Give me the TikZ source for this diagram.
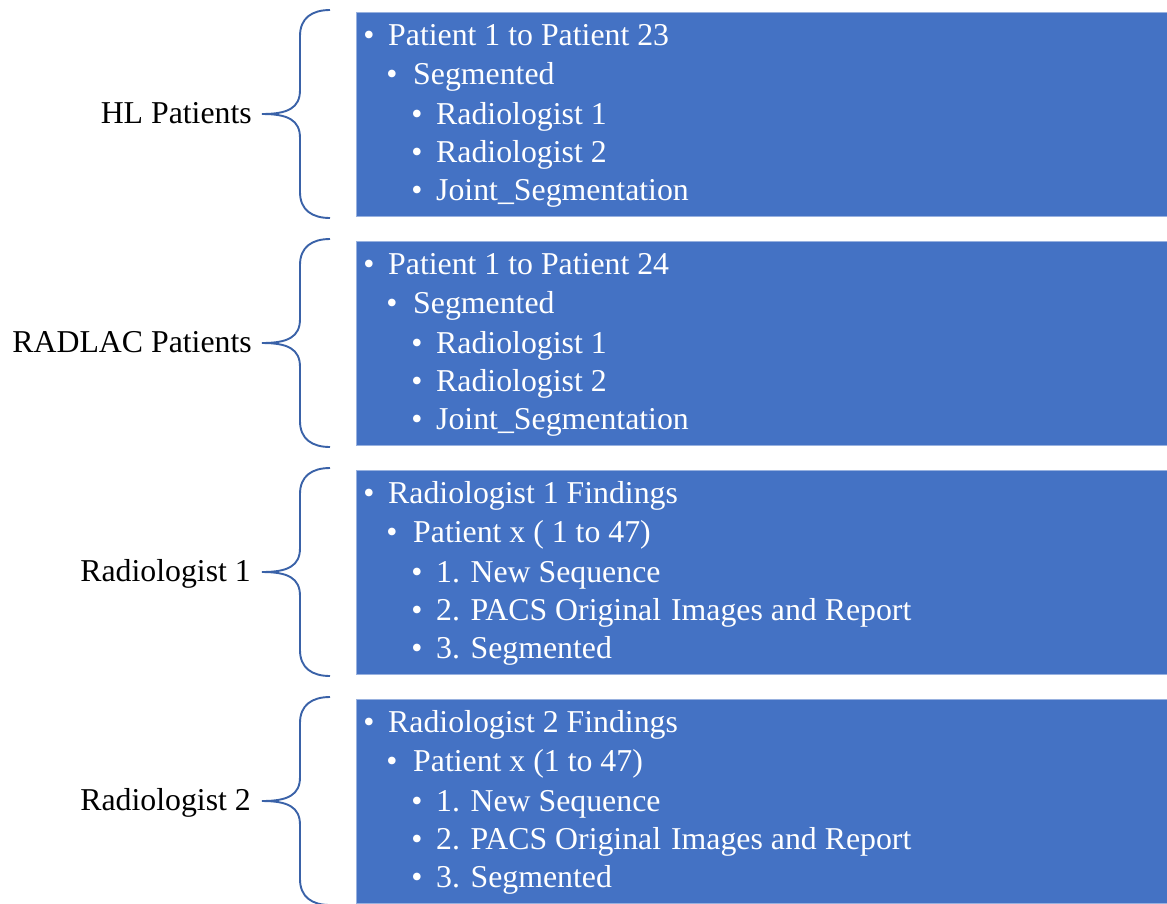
\documentclass[tikz,border=0pt]{standalone}
\usepackage{fontspec}
\setmainfont{Liberation Serif}
\definecolor{boxblue}{HTML}{4472C4}
\definecolor{bracecol}{HTML}{3A62A8}
\newcommand\drawbrace[3]{%
  \draw[bracestyle] (330,#1) .. controls (312,#1) and (300,{#1+8}) .. (300,{#1+26})
    -- (300,{#2-24}) .. controls (300,{#2-6}) and (288,#2) .. (262,#2)
    .. controls (288,#2) and (300,{#2+6}) .. (300,{#2+24})
    -- (300,{#3-26}) .. controls (300,{#3-8}) and (312,#3) .. (330,#3);}
\begin{document}
\begin{tikzpicture}[x=1pt,y=-1pt,
  font=\fontsize{31.8}{38}\selectfont,
  panel/.style={fill=boxblue, draw=boxblue!55!white, line width=0.8pt, anchor=north west,
    minimum width=820pt, minimum height=204.5pt, inner sep=0},
  bul/.style={anchor=base, inner sep=0, text=white},
  itm/.style={anchor=base west, inner sep=0, text=white},
  lab/.style={anchor=base east, inner sep=0, text=black},
  bracestyle/.style={draw=bracecol, line width=1.9pt}]
\useasboundingbox (0,0) rectangle (1167,903);
% panels
\node[panel] (p1) at (356,11.5) {};
\node[panel] (p2) at (356,240.5) {};
\node[panel] (p3) at (356,469.5) {};
\node[panel] (p4) at (356,698.5) {};
% braces
\drawbrace{10}{114}{218}
\drawbrace{239}{343}{447}
\drawbrace{468}{572}{676}
\drawbrace{697}{801}{905}
% labels
\node[lab] (l1) at (252,123) {HL Patients};
\node[lab] (l2) at (252,352) {RADLAC Patients};
\node[lab] (l3) at (251,581) {Radiologist 1};
\node[lab] (l4) at (251,810) {Radiologist 2};
% panel 1
\node[bul] (a1b) at (369,45) {•};  \node[itm] (a1) at (388,45) {Patient 1 to Patient 23};
\node[bul] (a2b) at (392,84.5) {•};\node[itm] (a2) at (413,84.5) {Segmented};
\node[bul] (a3b) at (417,124) {•}; \node[itm] (a3) at (436,124) {Radiologist 1};
\node[bul] (a4b) at (417,162) {•}; \node[itm] (a4) at (436,162) {Radiologist 2};
\node[bul] (a5b) at (417,200) {•}; \node[itm] (a5) at (436,200) {Joint\_Segmentation};
% panel 2
\node[bul] (b1b) at (369,274) {•};  \node[itm] (b1) at (388,274) {Patient 1 to Patient 24};
\node[bul] (b2b) at (392,313.5) {•};\node[itm] (b2) at (413,313.5) {Segmented};
\node[bul] (b3b) at (417,353) {•}; \node[itm] (b3) at (436,353) {Radiologist 1};
\node[bul] (b4b) at (417,391) {•}; \node[itm] (b4) at (436,391) {Radiologist 2};
\node[bul] (b5b) at (417,429) {•}; \node[itm] (b5) at (436,429) {Joint\_Segmentation};
% panel 3
\node[bul] (c1b) at (369,503) {•};  \node[itm] (c1) at (388,503) {Radiologist 1 Findings};
\node[bul] (c2b) at (392,542.5) {•};\node[itm] (c2) at (413,542.5) {Patient x ( 1 to 47)};
\node[bul] (c3b) at (417,582) {•}; \node[itm] (c3) at (436,582) {1. New Sequence};
\node[bul] (c4b) at (417,620) {•}; \node[itm] (c4) at (436,620) {2. PACS Original\hspace{2pt} Images and Report};
\node[bul] (c5b) at (417,658) {•}; \node[itm] (c5) at (436,658) {3. Segmented};
% panel 4
\node[bul] (d1b) at (369,732) {•};  \node[itm] (d1) at (388,732) {Radiologist 2 Findings};
\node[bul] (d2b) at (392,771.5) {•};\node[itm] (d2) at (413,771.5) {Patient x (1 to 47)};
\node[bul] (d3b) at (417,811) {•}; \node[itm] (d3) at (436,811) {1. New Sequence};
\node[bul] (d4b) at (417,849) {•}; \node[itm] (d4) at (436,849) {2. PACS Original\hspace{2pt} Images and Report};
\node[bul] (d5b) at (417,887) {•}; \node[itm] (d5) at (436,887) {3. Segmented};
\end{tikzpicture}
\end{document}
